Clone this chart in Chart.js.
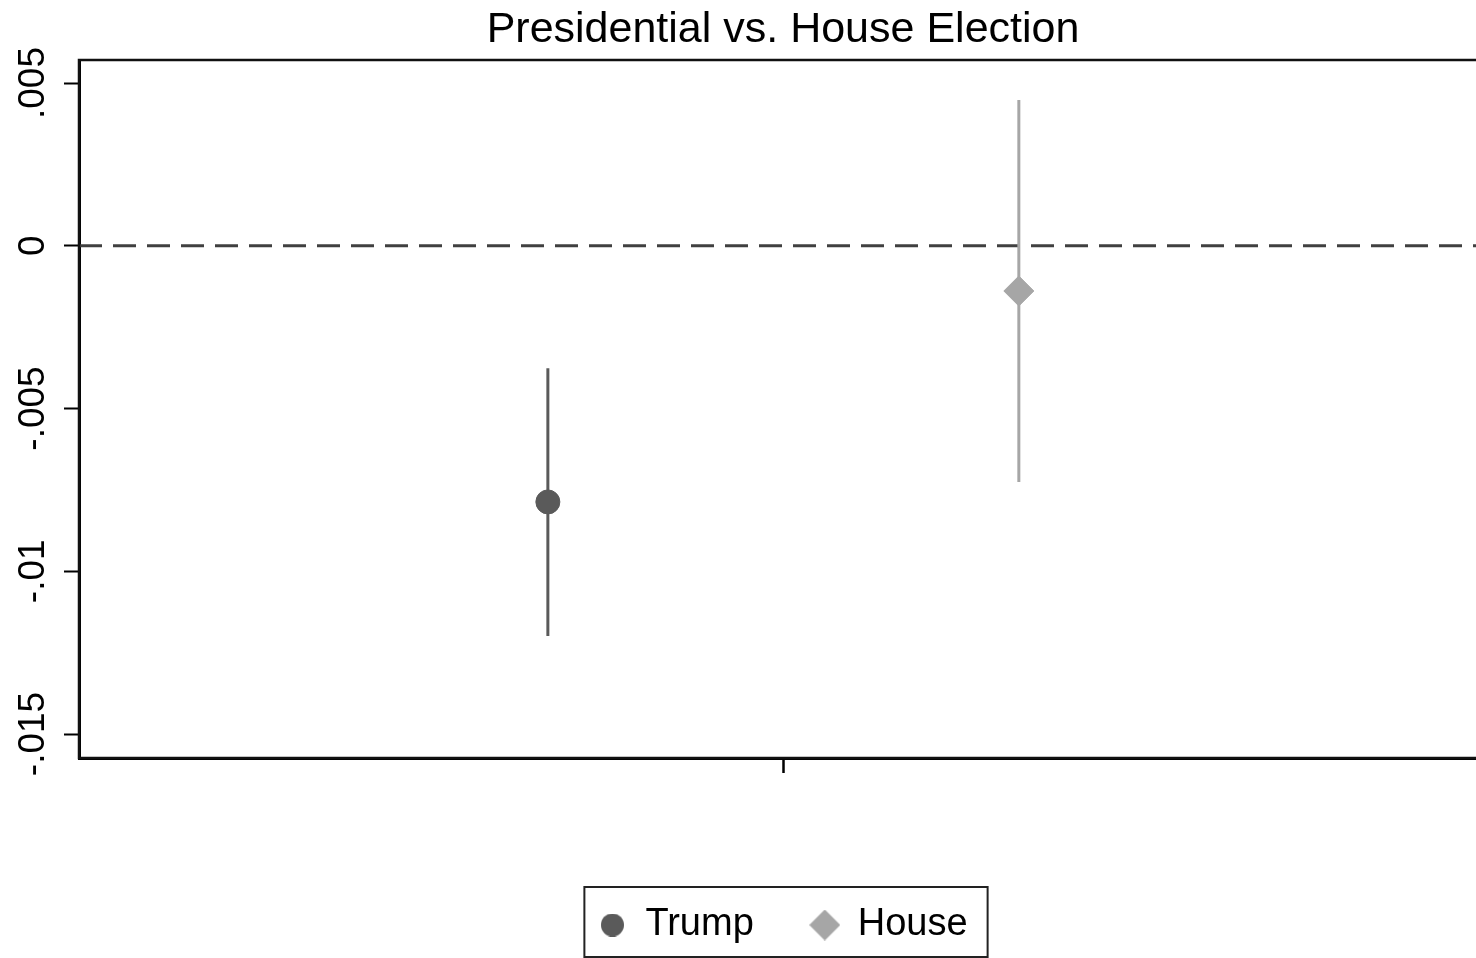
<!DOCTYPE html>
<html>
<head>
<meta charset="utf-8">
<title>Presidential vs. House Election</title>
<script src="https://cdn.jsdelivr.net/npm/chart.js@4.4.1/dist/chart.umd.min.js"></script>
<style>
  html, body { margin: 0; padding: 0; overflow: hidden; background: #fff; }
  canvas { display: block; }
</style>
</head>
<body>
<canvas id="coefChart" width="1566" height="1008"></canvas>
<script>
// ============================================
// Data
// ============================================
const SERIES = ["Trump", "House"]
const X_POS = [-0.334, 0.335]
const ESTIMATE = [-0.00787, -0.00139]
const CI_LOW = [-0.01199, -0.00726]
const CI_HIGH = [-0.00376, 0.00448]

const Y_TICKS = [-0.015, -0.01, -0.005, 0, 0.005]
const Y_TICK_LABELS = ["-.015", "-.01", "-.005", "0", ".005"]
const Y_MIN = -0.015737
const Y_MAX = 0.005707
const X_TICKS = [0]
const REF_LINE = 0

// ============================================
// Styles
// ============================================
const FONT = "'Liberation Sans', Arial, Helvetica, sans-serif"
const COLORS = ["#5a5a5a", "#a6a6a6"]
const MARKERS = ["circle", "rectRot"]
const MARKER_RADIUS = [12, 15]
const LEGEND_GLYPH_SIZE = [23, 31]

// small canvases used as legend symbols (circle and diamond have different sizes)
function makeGlyph(style, color, size) {
  const c = document.createElement("canvas")
  c.width = size
  c.height = size
  const g = c.getContext("2d")
  g.fillStyle = color
  g.beginPath()
  if (style === "circle") {
    g.arc(size / 2, size / 2, size / 2, 0, Math.PI * 2)
  } else {
    g.moveTo(size / 2, 0)
    g.lineTo(size, size / 2)
    g.lineTo(size / 2, size)
    g.lineTo(0, size / 2)
    g.closePath()
  }
  g.fill()
  return c
}
const LEGEND_GLYPHS = SERIES.map((_, i) => makeGlyph(MARKERS[i], COLORS[i], LEGEND_GLYPH_SIZE[i]))

// point estimates first so they are drawn on top of the CI lines
const pointSets = SERIES.map((name, i) => ({
  label: name,
  data: [{ x: X_POS[i], y: ESTIMATE[i] }],
  pointStyle: MARKERS[i],
  pointRadius: MARKER_RADIUS[i],
  pointHoverRadius: MARKER_RADIUS[i],
  backgroundColor: COLORS[i],
  borderColor: COLORS[i],
  borderWidth: 1,
}))

const ciSets = SERIES.map((name, i) => ({
  label: name + " CI",
  data: [
    { x: X_POS[i], y: CI_LOW[i] },
    { x: X_POS[i], y: CI_HIGH[i] },
  ],
  showLine: true,
  pointRadius: 0,
  borderColor: COLORS[i],
  borderWidth: 3,
}))

// dashed reference line at zero + plot frame + legend box
const refLinePlugin = {
  id: "refLine",
  beforeDatasetsDraw(chart) {
    const { ctx, chartArea } = chart
    const y = chart.scales.y.getPixelForValue(REF_LINE)
    ctx.save()
    ctx.strokeStyle = "#404040"
    ctx.lineWidth = 3
    ctx.setLineDash([23, 11])
    ctx.beginPath()
    ctx.moveTo(chartArea.left, y)
    ctx.lineTo(chartArea.right, y)
    ctx.stroke()
    ctx.restore()
  },
  afterDraw(chart) {
    const { ctx, chartArea } = chart
    ctx.save()
    ctx.strokeStyle = "#111"
    ctx.lineWidth = 2.5
    ctx.strokeRect(chartArea.left, chartArea.top, chartArea.right - chartArea.left, chartArea.bottom - chartArea.top)

    const boxes = chart.legend.legendHitBoxes
    if (boxes && boxes.length) {
      const left = Math.min(...boxes.map((b) => b.left)) - 14
      const right = Math.max(...boxes.map((b) => b.left + b.width)) + 20
      const top = boxes[0].top - 19
      const bottom = boxes[0].top + boxes[0].height + 13
      ctx.strokeStyle = "#222"
      ctx.lineWidth = 2
      ctx.strokeRect(left, top, right - left, bottom - top)
    }
    ctx.restore()
  },
}

new Chart(document.getElementById("coefChart"), {
  type: "scatter",
  data: { datasets: [...pointSets, ...ciSets] },
  options: {
    responsive: false,
    animation: false,
    devicePixelRatio: 1,
    layout: { padding: { top: 0, left: 0, right: 0, bottom: 54 } },
    plugins: {
      tooltip: { enabled: false },
      title: {
        display: true,
        text: "Presidential vs. House Election",
        color: "#000",
        font: { family: FONT, size: 43, weight: "normal" },
        padding: { top: 4, bottom: 4.4 },
      },
      legend: {
        position: "bottom",
        labels: {
          usePointStyle: true,
          boxWidth: 28,
          boxHeight: 16,
          padding: 57,
          color: "#000",
          font: { family: FONT, size: 38 },
          generateLabels: (chart) =>
            Chart.defaults.plugins.legend.labels
              .generateLabels(chart)
              .filter((item) => item.datasetIndex < SERIES.length)
              .map((item) => ({ ...item, pointStyle: LEGEND_GLYPHS[item.datasetIndex] })),
        },
      },
    },
    scales: {
      x: {
        type: "linear",
        min: -1,
        max: 1,
        afterBuildTicks: (scale) => {
          scale.ticks = X_TICKS.map((v) => ({ value: v }))
        },
        afterFit: (scale) => {
          scale.height = 91
        },
        ticks: { callback: () => "", font: { size: 10 } },
        grid: {
          drawOnChartArea: false,
          drawTicks: true,
          tickLength: 15,
          tickColor: "#000",
          tickWidth: 2.5,
        },
        border: { display: true, color: "#000", width: 3 },
      },
      y: {
        type: "linear",
        position: "left",
        min: Y_MIN,
        max: Y_MAX,
        afterBuildTicks: (scale) => {
          scale.ticks = Y_TICKS.map((v) => ({ value: v }))
        },
        afterFit: (scale) => {
          scale.width = 79
        },
        ticks: {
          minRotation: 90,
          maxRotation: 90,
          crossAlign: "center",
          padding: -12,
          color: "#000",
          font: { family: FONT, size: 37 },
          callback: (value) => {
            const idx = Y_TICKS.findIndex((t) => Math.abs(t - value) < 1e-9)
            return idx >= 0 ? Y_TICK_LABELS[idx] : ""
          },
        },
        grid: {
          drawOnChartArea: false,
          drawTicks: true,
          tickLength: 15,
          tickColor: "#000",
          tickWidth: 2,
        },
        border: { display: true, color: "#000", width: 3 },
      },
      // empty axis on the right so the plot region is centred under the title
      yRight: {
        type: "linear",
        position: "right",
        display: true,
        afterFit: (scale) => {
          scale.width = 79
        },
        ticks: { display: false },
        grid: { display: false },
        border: { display: false },
      },
    },
  },
  plugins: [refLinePlugin],
})
</script>
</body>
</html>
